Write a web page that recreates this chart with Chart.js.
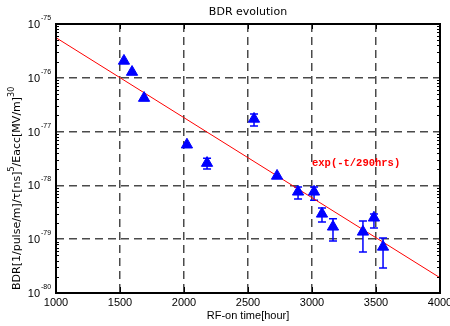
<!DOCTYPE html>
<html>
<head>
<meta charset="utf-8">
<script src="https://cdn.jsdelivr.net/npm/chart.js@4.4.0/dist/chart.umd.min.js"></script>
<style>
  body { margin: 0; background: #fff; }
  #wrap { width: 450px; height: 326px; }
</style>
</head>
<body>
<div id="wrap"><canvas id="bdrChart" width="450" height="326"></canvas></div>
<script>
// --- data ---
const rfHours = [1531, 1594, 1688, 2023, 2180, 2547, 2727, 2891, 3016, 3078, 3164, 3398, 3484, 3555];
const bdrValues = [2.06e-76, 1.28e-76, 4.2e-77, 5.7e-78, 2.6e-78, 1.72e-77, 1.5e-78, 7.6e-79, 7.6e-79, 2.96e-79, 1.7e-79, 1.37e-79, 2.5e-79, 7.2e-80];
const bdrErrHigh = [null, null, null, null, 3.2e-78, 2.12e-77, null, 9.3e-79, 9.3e-79, 3.8e-79, 2.4e-79, 2.18e-79, 2.95e-79, 1.05e-79];
const bdrErrLow = [null, null, null, null, 2.02e-78, 1.27e-77, null, 5.6e-79, 5.3e-79, 2.09e-79, 9.3e-80, 5.8e-80, 1.62e-79, 2.9e-80];
const fitHours = [1000, 4000];
const fitValues = [5.57e-76, 1.92e-80];
const fitLabel = 'exp(-t/290hrs)';
const xTickValues = [1000, 1500, 2000, 2500, 3000, 3500, 4000];
const yTickExponents = [-80, -79, -78, -77, -76, -75];

const FONT = '"Liberation Sans", Arial, sans-serif';
const WIDE_FONT = '"DejaVu Sans", sans-serif';

// --- custom drawing: error bars, frame, ticks, labels ---
const decorPlugin = {
    id: 'decor',
    beforeDatasetsDraw(chart) {
        const { ctx, scales: { x, y } } = chart;
        ctx.save();
        ctx.strokeStyle = '#0000ff';
        ctx.lineWidth = 1.5;
        rfHours.forEach((h, i) => {
            if (bdrErrHigh[i] == null) return;
            const px = x.getPixelForValue(h);
            const top = y.getPixelForValue(bdrErrHigh[i]);
            const bot = y.getPixelForValue(bdrErrLow[i]);
            ctx.beginPath();
            ctx.moveTo(px, top); ctx.lineTo(px, bot);
            ctx.moveTo(px - 4, top); ctx.lineTo(px + 4, top);
            ctx.moveTo(px - 4, bot); ctx.lineTo(px + 4, bot);
            ctx.stroke();
        });
        ctx.restore();
    },
    afterDraw(chart) {
        const { ctx, chartArea: a, scales: { x, y } } = chart;
        ctx.save();

        // 프레임
        ctx.strokeStyle = '#000';
        ctx.lineWidth = 2;
        ctx.strokeRect(a.left, a.top, a.right - a.left, a.bottom - a.top);

        // 눈금 (안쪽)
        ctx.lineWidth = 1;
        ctx.beginPath();
        xTickValues.slice(1, -1).forEach(v => {
            const px = Math.round(x.getPixelForValue(v)) + 0.5;
            ctx.moveTo(px, a.bottom); ctx.lineTo(px, a.bottom - 6);
            ctx.moveTo(px, a.top); ctx.lineTo(px, a.top + 5);
        });
        for (let e = yTickExponents[0]; e < yTickExponents[yTickExponents.length - 1]; e++) {
            for (let k = 2; k <= 9; k++) {
                const py = Math.round(y.getPixelForValue(k * Math.pow(10, e))) + 0.5;
                ctx.moveTo(a.left, py); ctx.lineTo(a.left + 3, py);
                ctx.moveTo(a.right, py); ctx.lineTo(a.right - 3, py);
            }
        }
        ctx.stroke();

        // 눈금 라벨
        ctx.fillStyle = '#000';
        ctx.font = '11px ' + FONT;
        ctx.textAlign = 'center';
        ctx.textBaseline = 'middle';
        xTickValues.forEach(v => ctx.fillText(String(v), x.getPixelForValue(v), 303));

        yTickExponents.forEach(e => {
            const py = y.getPixelForValue(Math.pow(10, e));
            ctx.font = '11px ' + FONT;
            ctx.textAlign = 'right';
            ctx.fillText('10', 40, py + 1);
            ctx.font = '7px ' + FONT;
            ctx.textAlign = 'left';
            ctx.fillText(String(e), 41, py - 6);
        });

        // 제목, 축 제목
        ctx.font = '11px ' + WIDE_FONT;
        ctx.textAlign = 'center';
        ctx.fillText('BDR evolution', (a.left + a.right) / 2, 12);
        ctx.font = '11px ' + FONT;
        ctx.fillText('RF-on time[hour]', (a.left + a.right) / 2, 316);

        const parts = [['BDR[1/pulse/m]/τ[ns]', false], ['5', true], ['/Eacc[MV/m]', false], ['30', true]];
        ctx.translate(17, 290);
        ctx.rotate(-Math.PI / 2);
        ctx.textAlign = 'left';
        let cx = 0;
        parts.forEach(([txt, sup]) => {
            ctx.font = (sup ? '8px ' : '11px ') + WIDE_FONT;
            ctx.fillText(txt, cx, sup ? -5 : 0);
            cx += ctx.measureText(txt).width;
        });
        ctx.restore();

        // 피팅 라벨
        ctx.save();
        ctx.fillStyle = '#ff0000';
        ctx.font = 'bold 10.5px "Liberation Mono", "DejaVu Sans Mono", monospace';
        ctx.textAlign = 'left';
        ctx.textBaseline = 'middle';
        ctx.fillText(fitLabel, x.getPixelForValue(3000), y.getPixelForValue(2.6e-78));
        ctx.restore();
    }
};

const isDecade = v => Math.abs(Math.log10(v) - Math.round(Math.log10(v))) < 1e-6;

new Chart(document.getElementById('bdrChart'), {
    type: 'scatter',
    data: {
        datasets: [{
            label: 'BDR',
            data: rfHours.map((h, i) => ({ x: h, y: bdrValues[i] })),
            pointStyle: 'triangle',
            pointRadius: 6.5,
            backgroundColor: '#0000ff',
            borderColor: '#0000ff',
            borderWidth: 1
        }, {
            label: 'fit',
            type: 'line',
            data: fitHours.map((h, i) => ({ x: h, y: fitValues[i] })),
            borderColor: '#ff0000',
            borderWidth: 1,
            pointRadius: 0,
            fill: false
        }]
    },
    options: {
        responsive: false,
        animation: false,
        layout: { padding: { left: 56, top: 24, right: 10, bottom: 33 } },
        plugins: { legend: { display: false }, tooltip: { enabled: false }, title: { display: false } },
        scales: {
            x: {
                type: 'linear',
                min: 1000,
                max: 4000,
                afterBuildTicks: scale => { scale.ticks = xTickValues.map(v => ({ value: v })); },
                ticks: { display: false },
                grid: {
                    drawTicks: false,
                    lineWidth: 1.5,
                    color: c => (c.tick && c.tick.value > 1000 && c.tick.value < 4000) ? '#4a4a4a' : 'rgba(0,0,0,0)'
                },
                border: { display: false, dash: [8, 5] }
            },
            y: {
                type: 'logarithmic',
                min: 1e-80,
                max: 1e-75,
                afterBuildTicks: scale => { scale.ticks = yTickExponents.map(e => ({ value: Math.pow(10, e) })); },
                ticks: { display: false },
                grid: {
                    drawTicks: false,
                    lineWidth: 1.5,
                    color: c => (c.tick && isDecade(c.tick.value) && c.tick.value > 1.5e-80 && c.tick.value < 0.9e-75) ? '#4a4a4a' : 'rgba(0,0,0,0)'
                },
                border: { display: false, dash: [8, 5] }
            }
        }
    },
    plugins: [decorPlugin]
});
</script>
</body>
</html>
